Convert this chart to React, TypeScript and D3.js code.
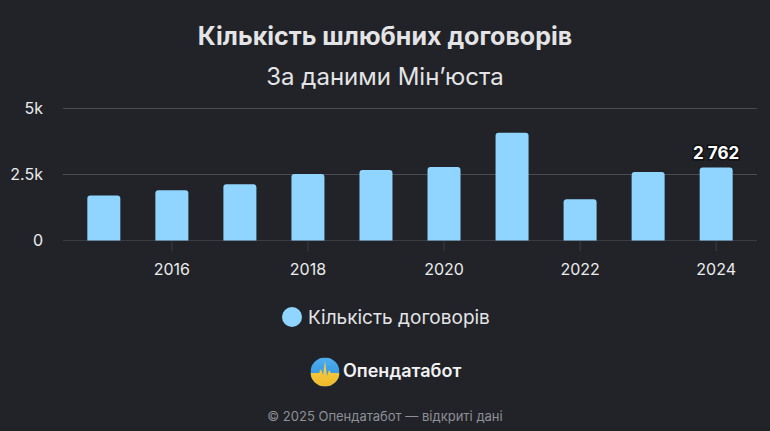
import React from 'react';
import * as d3 from 'd3';

const years = [2015, 2016, 2017, 2018, 2019, 2020, 2021, 2022, 2023, 2024];
const contracts = [1700, 1900, 2130, 2520, 2670, 2780, 4080, 1560, 2590, 2762];
const yTicks = [0, 2500, 5000];
const xTicks = [2016, 2018, 2020, 2022, 2024];

const W = 770;
const H = 431;
const BG = '#212328';
const BAR = '#8fd5ff';
const FONT = 'Inter, "Noto Sans", sans-serif';

const App: React.FC = () => {
  const x = d3.scaleLinear().domain([2014.4, 2024.6]).range([63, 757]);
  const y = d3.scaleLinear().domain([0, 5000]).range([240.5, 108.5]);
  const barW = 33;
  const fmtY = (v: number) => (v === 0 ? '0' : `${d3.format('~')(v / 1000)}k`);
  const fmtVal = (v: number) => d3.format(',')(v).replace(/,/g, ' ');
  const last = years.length - 1;

  // logo geometry
  const lx = 325;
  const ly = 372;
  const lr = 14.5;
  const pulse = `M${lx - lr},${ly + 1} L${lx - 6},${ly + 1} L${lx - 4},${ly - 3} L${lx - 2},${ly + 3} L${lx},${ly - 11} L${lx + 2},${ly + 4} L${lx + 4},${ly - 2} L${lx + 6},${ly + 1} L${lx + lr},${ly + 1} L${lx + lr},${ly + lr} L${lx - lr},${ly + lr} Z`;

  return (
    <svg
      width={W}
      height={H}
      style={{ display: 'block', position: 'fixed', left: 0, top: 0, background: BG }}
      fontFamily={FONT}
    >
      <rect width={W} height={H} fill={BG} />
      <text x={385} y={45} textAnchor="middle" fontSize={25} fontWeight={700} fill="#e4e4e6">
        Кількість шлюбних договорів
      </text>
      <text x={385} y={85} textAnchor="middle" fontSize={24} fill="#e4e4e6">
        За даними Мін’юста
      </text>

      {yTicks.map((t) => (
        <g key={t}>
          <line x1={63} x2={757} y1={y(t)} y2={y(t)} stroke={t === 0 ? '#3a3c42' : '#4a4c52'} strokeWidth={1} />
          <text x={43} y={y(t)} dy="0.35em" textAnchor="end" fontSize={16} fill="#ececee">
            {fmtY(t)}
          </text>
        </g>
      ))}

      {xTicks.map((t) => (
        <g key={t}>
          <line x1={x(t)} x2={x(t)} y1={y(0)} y2={y(0) + 11} stroke="#3a3c42" />
          <text x={x(t)} y={275} textAnchor="middle" fontSize={16} fill="#ececee">
            {t}
          </text>
        </g>
      ))}

      {years.map((yr, i) => (
        <path
          key={yr}
          d={(() => {
            const x0 = x(yr) - barW / 2;
            const x1 = x(yr) + barW / 2;
            const top = y(contracts[i]);
            const b = y(0);
            const r = 3;
            return `M${x0},${b}V${top + r}Q${x0},${top} ${x0 + r},${top}H${x1 - r}Q${x1},${top} ${x1},${top + r}V${b}Z`;
          })()}
          fill={BAR}
        />
      ))}

      <text
        x={x(years[last])}
        y={y(contracts[last]) - 9}
        textAnchor="middle"
        fontSize={17}
        fontWeight={700}
        fill="#ffffff"
        stroke="#111214"
        strokeWidth={3}
        paintOrder="stroke"
      >
        {fmtVal(contracts[last])}
      </text>

      <circle cx={292} cy={317} r={10} fill={BAR} />
      <text x={308} y={324} fontSize={19} fill="#e4e4e6">
        Кількість договорів
      </text>

      <defs>
        <clipPath id="logoClip">
          <circle cx={lx} cy={ly} r={lr} />
        </clipPath>
        <linearGradient id="logoBlue" x1="0" y1="0" x2="0" y2="1">
          <stop offset="0%" stopColor="#4fb0f0" />
          <stop offset="100%" stopColor="#2a86d6" />
        </linearGradient>
        <linearGradient id="logoYellow" x1="0" y1="0" x2="0" y2="1">
          <stop offset="0%" stopColor="#f7d24a" />
          <stop offset="100%" stopColor="#efb92a" />
        </linearGradient>
      </defs>
      <g clipPath="url(#logoClip)">
        <rect x={lx - lr} y={ly - lr} width={lr * 2} height={lr * 2} fill="url(#logoBlue)" />
        <path d={pulse} fill="url(#logoYellow)" />
      </g>
      <text x={343} y={377} fontSize={18} fontWeight={600} fill="#f2f2f4">
        Опендатабот
      </text>

      <text x={385} y={421} textAnchor="middle" fontSize={13} fill="#8e9096">
        © 2025 Опендатабот — відкриті дані
      </text>
    </svg>
  );
};

export default App;
